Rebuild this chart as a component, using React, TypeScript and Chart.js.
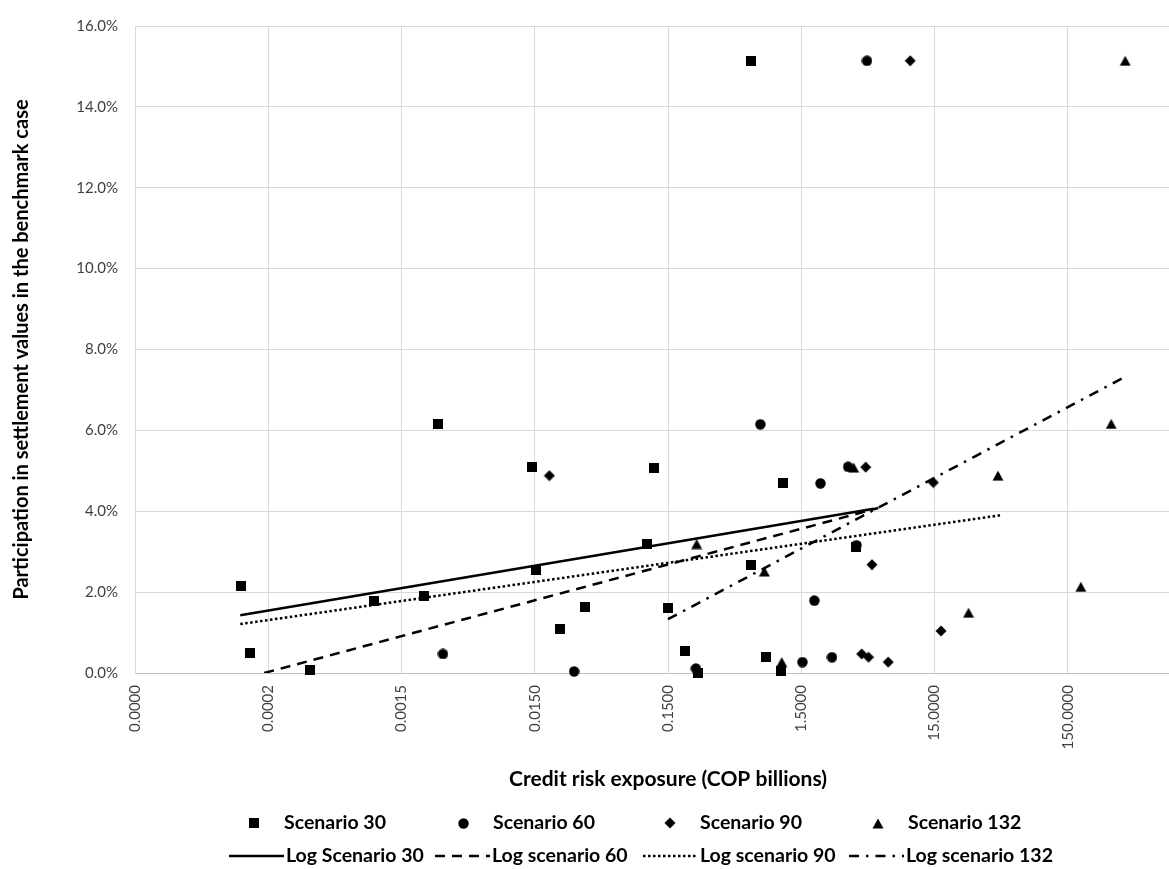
import React, { useEffect, useRef } from "react";
import { Chart, registerables } from "chart.js";

Chart.register(...registerables);

// ---- axis ticks ----
const xTickValues = [0.000015, 0.00015, 0.0015, 0.015, 0.15, 1.5, 15, 150];
const xTickLabels = ["0.0000", "0.0002", "0.0015", "0.0150", "0.1500", "1.5000", "15.0000", "150.0000"];
const xMin = 0.000015;
const xMax = 1500;
const yMin = 0;
const yMax = 16;
const yStep = 2;

// ---- series (x: COP billions, y: % participation) ----
const s30Label = "Scenario 30";
const s30X = [0.0000935, 0.000109, 0.000306, 0.000937, 0.00222, 0.00283, 0.0144, 0.0154, 0.0231, 0.0355, 0.105, 0.117, 0.15, 0.202, 0.25, 0.633, 1.1, 0.82, 1.06, 0.63, 3.89];
const s30Y = [2.14, 0.5, 0.07, 1.79, 1.9, 6.16, 5.1, 2.54, 1.09, 1.63, 3.2, 5.07, 1.6, 0.54, 0.0, 2.68, 4.69, 0.39, 0.05, 15.14, 3.12];

const s60Label = "Scenario 60";
const s60X = [0.00307, 0.0296, 0.243, 0.74, 3.37, 2.09, 3.89, 1.88, 1.53, 2.55, 4.67];
const s60Y = [0.47, 0.04, 0.11, 6.15, 5.1, 4.69, 3.16, 1.79, 0.27, 0.39, 15.14];

const s90Label = "Scenario 90";
const s90X = [0.0193, 4.57, 14.7, 5.09, 16.8, 4.26, 4.8, 6.74, 9.86];
const s90Y = [4.88, 5.09, 4.71, 2.68, 1.04, 0.47, 0.39, 0.27, 15.14];

const s132Label = "Scenario 132";
const s132X = [0.246, 0.793, 1.07, 3.71, 44.9, 318, 188, 27.0, 405];
const s132Y = [3.19, 2.51, 0.27, 5.08, 4.88, 6.16, 2.13, 1.49, 15.14];

// ---- logarithmic trend lines (end points) ----
const log30Label = "Log Scenario 30";
const log30X = [0.0000925, 5.24];
const log30Y = [1.43, 4.06];

const log60Label = "Log scenario 60";
const log60X = [0.00014, 5.68];
const log60Y = [0.0, 4.08];

const log90Label = "Log scenario 90";
const log90X = [0.0000925, 46.8];
const log90Y = [1.21, 3.9];

const log132Label = "Log scenario 132";
const log132X = [0.15, 412];
const log132Y = [1.33, 7.34];

const toPts = (xs: number[], ys: number[]) => xs.map((x, i) => ({ x, y: ys[i] }));

function makeMarker(shape: string): HTMLCanvasElement {
  const c = document.createElement("canvas");
  const ctx = c.getContext("2d") as CanvasRenderingContext2D;
  if (shape === "square") {
    c.width = 10; c.height = 10;
    ctx.fillStyle = "#000";
    ctx.fillRect(0, 0, 10, 10);
  } else if (shape === "circle") {
    c.width = 11; c.height = 11;
    ctx.fillStyle = "#000";
    ctx.beginPath();
    ctx.arc(5.5, 5.5, 5.2, 0, Math.PI * 2);
    ctx.fill();
  } else if (shape === "diamond") {
    c.width = 12; c.height = 12;
    ctx.fillStyle = "#000";
    ctx.beginPath();
    ctx.moveTo(6, 0.5);
    ctx.lineTo(11.5, 6);
    ctx.lineTo(6, 11.5);
    ctx.lineTo(0.5, 6);
    ctx.closePath();
    ctx.fill();
  } else {
    c.width = 12; c.height = 11;
    ctx.fillStyle = "#000";
    ctx.beginPath();
    ctx.moveTo(6, 0.5);
    ctx.lineTo(11.5, 10.5);
    ctx.lineTo(0.5, 10.5);
    ctx.closePath();
    ctx.fill();
  }
  return c;
}

const FONT = "Lato, 'Open Sans', sans-serif";

export default function App() {
  const ref = useRef<HTMLCanvasElement | null>(null);

  useEffect(() => {
    const canvas = ref.current;
    if (!canvas) return;
    const mSquare = makeMarker("square");
    const mCircle = makeMarker("circle");
    const mDiamond = makeMarker("diamond");
    const mTri = makeMarker("triangle");

    const scatterDs = (label: string, xs: number[], ys: number[], img: HTMLCanvasElement) => ({
      label,
      data: toPts(xs, ys),
      pointStyle: img,
      pointRadius: 5,
      pointHoverRadius: 5,
      backgroundColor: "#000",
      borderColor: "#000",
      showLine: false,
      clip: false as any,
      marker: img,
    });
    const lineDs = (label: string, xs: number[], ys: number[], dash: number[], width: number) => ({
      label,
      data: toPts(xs, ys),
      showLine: true,
      borderColor: "#000",
      backgroundColor: "#000",
      borderWidth: width,
      borderDash: dash,
      pointRadius: 0,
      pointHoverRadius: 0,
      fill: false,
      tension: 0,
      dashSample: dash,
    });

    const datasets: any[] = [
      scatterDs(s30Label, s30X, s30Y, mSquare),
      scatterDs(s60Label, s60X, s60Y, mCircle),
      scatterDs(s90Label, s90X, s90Y, mDiamond),
      scatterDs(s132Label, s132X, s132Y, mTri),
      lineDs(log30Label, log30X, log30Y, [], 2.5),
      lineDs(log60Label, log60X, log60Y, [10, 7], 2.5),
      lineDs(log90Label, log90X, log90Y, [2.5, 2.5], 2.5),
      lineDs(log132Label, log132X, log132Y, [10, 7, 2.5, 7], 2.5),
    ];

    const legendPlugin = {
      id: "excelLegend",
      afterDraw(chart: any) {
        const ctx = chart.ctx as CanvasRenderingContext2D;
        const ds = chart.data.datasets;
        const row1Y = 823;
        const row2Y = 856;
        const markerX = [254, 463, 670, 878];
        const row2TextX = [286, 492, 700, 906];
        ctx.save();
        ctx.font = `bold 19.5px ${FONT}`;
        ctx.fillStyle = "#000";
        ctx.textBaseline = "middle";
        ctx.textAlign = "left";
        for (let i = 0; i < 4; i++) {
          const img = ds[i].marker as HTMLCanvasElement;
          ctx.drawImage(img, Math.round(markerX[i] - img.width / 2), Math.round(row1Y - img.height / 2));
          ctx.fillText(ds[i].label, markerX[i] + 30, row1Y);
        }
        for (let i = 0; i < 4; i++) {
          const d = ds[4 + i];
          ctx.save();
          ctx.strokeStyle = "#000";
          ctx.lineWidth = 2.5;
          ctx.setLineDash(d.dashSample);
          ctx.beginPath();
          ctx.moveTo(row2TextX[i] - 57, row2Y);
          ctx.lineTo(row2TextX[i] - 2, row2Y);
          ctx.stroke();
          ctx.restore();
          ctx.fillText(d.label, row2TextX[i], row2Y);
        }
        ctx.restore();
      },
    };

    const chart = new Chart(canvas, {
      type: "scatter",
      data: { datasets },
      options: {
        responsive: false,
        animation: false,
        devicePixelRatio: 1,
        layout: { padding: { left: 0, top: 18, right: 71, bottom: 77 } },
        plugins: {
          legend: { display: false },
          tooltip: { enabled: false },
        },
        scales: {
          x: {
            type: "logarithmic",
            min: xMin,
            max: xMax,
            afterBuildTicks: (scale: any) => {
              scale.ticks = xTickValues.map((v) => ({ value: v }));
            },
            afterFit: (scale: any) => {
              scale.height = 119;
            },
            ticks: {
              autoSkip: false,
              minRotation: 90,
              maxRotation: 90,
              padding: 12,
              color: "#404040",
              font: { family: FONT, size: 15 },
              callback: (_v: any, i: number) => xTickLabels[i],
            },
            grid: { color: "#d9d9d9", lineWidth: 1, drawTicks: false },
            border: { color: "#bfbfbf", width: 1 },
            title: {
              display: true,
              text: "Credit risk exposure (COP billions)",
              color: "#000",
              padding: 0,
              font: { family: FONT, size: 21, weight: "bold" },
            },
          },
          y: {
            type: "linear",
            min: yMin,
            max: yMax,
            afterFit: (scale: any) => {
              scale.width = 135;
            },
            ticks: {
              stepSize: yStep,
              padding: 17,
              color: "#404040",
              font: { family: FONT, size: 15 },
              callback: (v: any) => `${Number(v).toFixed(1)}%`,
            },
            grid: { color: "#d9d9d9", lineWidth: 1, drawTicks: false },
            border: { color: "#d9d9d9", width: 1 },
            title: {
              display: true,
              text: "Participation in settlement values in the benchmark case",
              color: "#000",
              padding: { top: 10, bottom: 0 },
              font: { family: FONT, size: 20, weight: "bold" },
            },
          },
        },
      } as any,
      plugins: [legendPlugin],
    });
    return () => chart.destroy();
  }, []);

  return (
    <div
      style={{
        position: "fixed",
        left: 0,
        top: 0,
        width: 1169,
        height: 869,
        overflow: "hidden",
        background: "#fff",
      }}
    >
      <canvas ref={ref} width={1272} height={869} style={{ display: "block" }} />
    </div>
  );
}
